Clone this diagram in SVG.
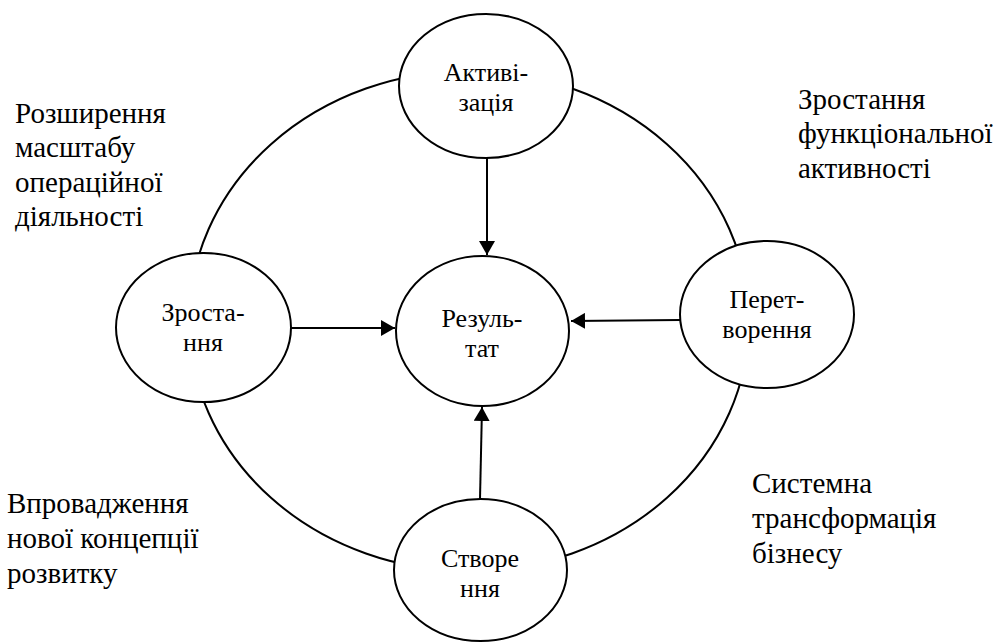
<svg xmlns="http://www.w3.org/2000/svg" width="1000" height="643" viewBox="0 0 1000 643">
<defs>
<marker id="arr" markerUnits="userSpaceOnUse" markerWidth="16" markerHeight="16" refX="14" refY="8" orient="auto">
<path d="M0,0 L14,8 L0,16 z" fill="#000"/>
</marker>
</defs>
<g id="connectors" fill="none" stroke="#000" stroke-width="2">
<ellipse cx="469" cy="321" rx="280" ry="250"/>
<path d="M487,158 L487,255" marker-end="url(#arr)"/>
<path d="M291,328 L395,328" marker-end="url(#arr)"/>
<path d="M680,320 L571,321" marker-end="url(#arr)"/>
<path d="M480,499 L482,407" marker-end="url(#arr)"/>
</g>
<g id="node-activization">
<ellipse cx="486" cy="86" rx="87" ry="72" fill="#fff" stroke="#000" stroke-width="2"/>
<text x="486" y="81" font-family="Times New Roman, Liberation Serif, serif" font-size="26" text-anchor="middle">Активі-</text>
<text x="486" y="111" font-family="Times New Roman, Liberation Serif, serif" font-size="26" text-anchor="middle">зація</text>
</g>
<g id="node-growth">
<ellipse cx="203.5" cy="327.5" rx="87.5" ry="74.5" fill="#fff" stroke="#000" stroke-width="2"/>
<text x="203" y="321" font-family="Times New Roman, Liberation Serif, serif" font-size="26" text-anchor="middle">Зроста-</text>
<text x="203" y="351" font-family="Times New Roman, Liberation Serif, serif" font-size="26" text-anchor="middle">ння</text>
</g>
<g id="node-result">
<ellipse cx="482.5" cy="331" rx="86.5" ry="75" fill="#fff" stroke="#000" stroke-width="2"/>
<text x="482" y="327" font-family="Times New Roman, Liberation Serif, serif" font-size="26" text-anchor="middle">Резуль-</text>
<text x="482" y="357" font-family="Times New Roman, Liberation Serif, serif" font-size="26" text-anchor="middle">тат</text>
</g>
<g id="node-transform">
<ellipse cx="767" cy="314.5" rx="87" ry="73.5" fill="#fff" stroke="#000" stroke-width="2"/>
<text x="767" y="308" font-family="Times New Roman, Liberation Serif, serif" font-size="26" text-anchor="middle">Перет-</text>
<text x="767" y="338" font-family="Times New Roman, Liberation Serif, serif" font-size="26" text-anchor="middle">ворення</text>
</g>
<g id="node-creation">
<ellipse cx="480.5" cy="570" rx="86.5" ry="71" fill="#fff" stroke="#000" stroke-width="2"/>
<text x="480" y="567" font-family="Times New Roman, Liberation Serif, serif" font-size="26" text-anchor="middle">Створе</text>
<text x="480" y="597" font-family="Times New Roman, Liberation Serif, serif" font-size="26" text-anchor="middle">ння</text>
</g>
<g id="labels">
<text x="15" y="123" font-family="Times New Roman, Liberation Serif, serif" font-size="29">Розширення</text>
<text x="15" y="157" font-family="Times New Roman, Liberation Serif, serif" font-size="29">масштабу</text>
<text x="15" y="192" font-family="Times New Roman, Liberation Serif, serif" font-size="29">операційної</text>
<text x="15" y="226" font-family="Times New Roman, Liberation Serif, serif" font-size="29">діяльності</text>
<text x="798" y="109" font-family="Times New Roman, Liberation Serif, serif" font-size="29">Зростання</text>
<text x="798" y="143" font-family="Times New Roman, Liberation Serif, serif" font-size="29">функціональної</text>
<text x="798" y="178" font-family="Times New Roman, Liberation Serif, serif" font-size="29">активності</text>
<text x="7" y="513" font-family="Times New Roman, Liberation Serif, serif" font-size="29">Впровадження</text>
<text x="7" y="548" font-family="Times New Roman, Liberation Serif, serif" font-size="29">нової концепції</text>
<text x="7" y="583" font-family="Times New Roman, Liberation Serif, serif" font-size="29">розвитку</text>
<text x="752" y="493" font-family="Times New Roman, Liberation Serif, serif" font-size="29">Системна</text>
<text x="752" y="528" font-family="Times New Roman, Liberation Serif, serif" font-size="29">трансформація</text>
<text x="752" y="563" font-family="Times New Roman, Liberation Serif, serif" font-size="29">бізнесу</text>
</g>
</svg>
